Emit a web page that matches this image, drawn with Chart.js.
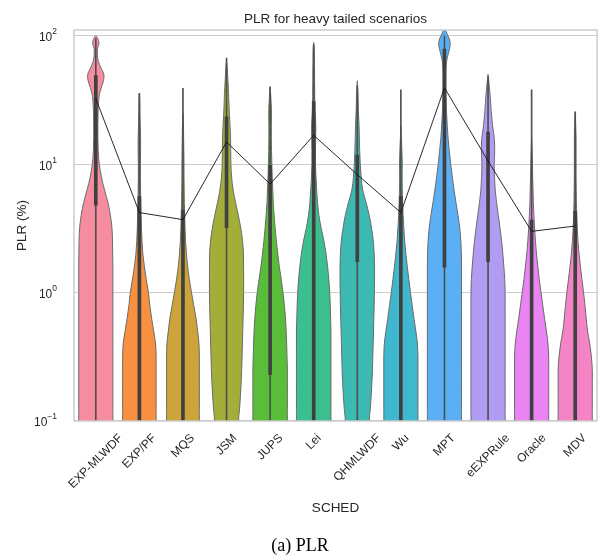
<!DOCTYPE html>
<html>
<head>
<meta charset="utf-8">
<script src="https://cdn.jsdelivr.net/npm/chart.js@4.4.0/dist/chart.umd.min.js"></script>
<style>
  html, body { margin: 0; padding: 0; background: #fff; }
  #wrap { width: 600px; height: 559px; }
</style>
</head>
<body>
<div id="wrap"><canvas id="chart"></canvas></div>
<script>
// categories
const schedulers = ["EXP-MLWDF", "EXP/PF", "MQS", "JSM", "JUPS", "Lei",
  "QHMLWDF", "Wu", "MPT", "eEXPRule", "Oracle", "MDV"];

const colors = ["#f68c9f", "#f99040", "#cda43a", "#a3ae38", "#59bd39", "#3bbf8f",
  "#3cbab1", "#3fb8cf", "#5aaff5", "#b19cf4", "#e984f2", "#f584c6"];

// mean PLR per scheduler (black line)
const means = [32.5, 4.2, 3.7, 14.9, 7.0, 16.8, 8.3, 4.2, 39.4, 10.6, 3.0, 3.3];

// inner box: quartiles and whisker ends (0.05 = below the axis)
const boxLow = [4.8, 0.05, 0.05, 3.2, 0.23, 0.05, 1.74, 0.05, 1.58, 1.74, 0.05, 0.05];
const boxHigh = [49, 5.6, 4.4, 23.4, 9.8, 30.7, 11.8, 5.6, 79, 17.8, 3.67, 4.3];
const whiskerLow = [0.05, 0.05, 0.05, 0.05, 0.05, 0.05, 0.05, 0.05, 0.05, 0.05, 0.05, 0.05];
const whiskerHigh = [95, 35.6, 39, 67, 40, 85, 41, 38, 100, 48, 38, 25.6];

// violin outline: log10(PLR) levels and relative half widths at each level
const levelExp = [-1.0, -0.9, -0.8, -0.7, -0.6, -0.5, -0.4, -0.3, -0.2, -0.1,
  0.0, 0.1, 0.2, 0.3, 0.4, 0.5, 0.6, 0.7, 0.8, 0.9,
  1.0, 1.1, 1.2, 1.3, 1.4, 1.5, 1.55, 1.6, 1.65, 1.7,
  1.75, 1.8, 1.85, 1.9, 1.95, 2.0, 2.05, 2.1];

const wExpMlwdf = [0.98, 0.98, 0.98, 0.98, 0.98, 0.98, 0.98, 0.98, 0.98, 0.98,
  0.98, 0.98, 0.98, 0.97, 0.96, 0.93, 0.84, 0.7, 0.5, 0.32,
  0.2, 0.14, 0.12, 0.12, 0.13, 0.17, 0.22, 0.32, 0.44, 0.46,
  0.3, 0.15, 0.09, 0.1, 0.18, 0, 0, 0];
const wExpPf = [0.96, 0.96, 0.96, 0.96, 0.96, 0.96, 0.93, 0.82, 0.7, 0.6,
  0.52, 0.4, 0.29, 0.2, 0.15, 0.12, 0.1, 0.08, 0.07, 0.06,
  0.06, 0.07, 0.07, 0.05, 0.03, 0.02, 0, 0, 0, 0,
  0, 0, 0, 0, 0, 0, 0, 0];
const wMqs = [0.94, 0.94, 0.94, 0.94, 0.94, 0.94, 0.92, 0.84, 0.75, 0.62,
  0.49, 0.37, 0.27, 0.2, 0.15, 0.12, 0.1, 0.08, 0.07, 0.06,
  0.06, 0.05, 0.04, 0.03, 0, 0, 0, 0, 0, 0,
  0, 0, 0, 0, 0, 0, 0, 0];
const wJsm = [0.69, 0.75, 0.8, 0.84, 0.87, 0.89, 0.91, 0.93, 0.95, 0.97,
  0.98, 0.98, 0.98, 0.97, 0.92, 0.82, 0.68, 0.52, 0.38, 0.29,
  0.25, 0.24, 0.23, 0.2, 0.16, 0.13, 0.12, 0.1, 0.08, 0.06,
  0.04, 0, 0, 0, 0, 0, 0, 0];
const wJups = [0.99, 0.99, 0.99, 0.99, 0.99, 0.97, 0.95, 0.92, 0.88, 0.82,
  0.74, 0.64, 0.53, 0.44, 0.36, 0.29, 0.23, 0.18, 0.15, 0.12,
  0.1, 0.08, 0.07, 0.07, 0.08, 0.05, 0.03, 0, 0, 0,
  0, 0, 0, 0, 0, 0, 0, 0];
const wLei = [0.99, 0.99, 0.99, 0.99, 0.99, 0.99, 0.99, 0.99, 0.97, 0.95,
  0.92, 0.87, 0.8, 0.71, 0.59, 0.43, 0.3, 0.22, 0.17, 0.13,
  0.1, 0.1, 0.11, 0.12, 0.08, 0.06, 0.06, 0.055, 0.05, 0.05,
  0.045, 0.04, 0.04, 0.03, 0, 0, 0, 0];
const wQhmlwdf = [0.69, 0.75, 0.8, 0.84, 0.87, 0.89, 0.91, 0.93, 0.95, 0.97,
  0.98, 0.99, 0.99, 0.97, 0.92, 0.82, 0.69, 0.51, 0.31, 0.22,
  0.17, 0.14, 0.12, 0.1, 0.07, 0.05, 0.04, 0.02, 0, 0,
  0, 0, 0, 0, 0, 0, 0, 0];
const wWu = [0.98, 0.98, 0.98, 0.98, 0.98, 0.98, 0.95, 0.86, 0.75, 0.65,
  0.55, 0.46, 0.37, 0.29, 0.22, 0.17, 0.13, 0.1, 0.08, 0.07,
  0.08, 0.06, 0.03, 0, 0, 0, 0, 0, 0, 0,
  0, 0, 0, 0, 0, 0, 0, 0];
const wMpt = [0.98, 0.98, 0.98, 0.98, 0.98, 0.98, 0.98, 0.98, 0.98, 0.98,
  0.98, 0.98, 0.98, 0.97, 0.94, 0.88, 0.78, 0.66, 0.55, 0.45,
  0.36, 0.28, 0.21, 0.16, 0.12, 0.1, 0.09, 0.08, 0.08, 0.08,
  0.09, 0.12, 0.2, 0.29, 0.33, 0.2, 0, 0];
const wEexprule = [0.98, 0.98, 0.98, 0.98, 0.98, 0.98, 0.98, 0.98, 0.98, 0.98,
  0.98, 0.96, 0.91, 0.85, 0.78, 0.69, 0.59, 0.49, 0.41, 0.37,
  0.35, 0.38, 0.36, 0.26, 0.19, 0.14, 0.11, 0.08, 0.04, 0,
  0, 0, 0, 0, 0, 0, 0, 0];
const wOracle = [0.98, 0.98, 0.98, 0.98, 0.98, 0.98, 0.94, 0.85, 0.74, 0.64,
  0.54, 0.44, 0.36, 0.28, 0.22, 0.17, 0.13, 0.1, 0.08, 0.06,
  0.05, 0.03, 0, 0, 0, 0, 0, 0, 0, 0,
  0, 0, 0, 0, 0, 0, 0, 0];
const wMdv = [0.98, 0.98, 0.98, 0.98, 0.98, 0.93, 0.84, 0.71, 0.63, 0.56,
  0.48, 0.39, 0.3, 0.22, 0.16, 0.12, 0.09, 0.07, 0.06, 0.05,
  0.05, 0.05, 0.05, 0.03, 0, 0, 0, 0, 0, 0,
  0, 0, 0, 0, 0, 0, 0, 0];

const violinWidths = [wExpMlwdf, wExpPf, wMqs, wJsm, wJups, wLei,
  wQhmlwdf, wWu, wMpt, wEexprule, wOracle, wMdv];

// y ticks
const yTickValues = [0.1, 1, 10, 100];
const yTickExps = ["\u22121", "0", "1", "2"];

const TEXT = "#262626";
const SANS = "'Liberation Sans', Arial, sans-serif";

//smooth closed outline through the points
function smoothPath(ctx, pts) {
  ctx.moveTo(pts[0][0], pts[0][1]);
  for (let i = 0; i < pts.length - 1; i++) {
    const p0 = pts[i - 1] || pts[i];
    const p1 = pts[i];
    const p2 = pts[i + 1];
    const p3 = pts[i + 2] || p2;
    ctx.bezierCurveTo(
      p1[0] + (p2[0] - p0[0]) / 6, p1[1] + (p2[1] - p0[1]) / 6,
      p2[0] - (p3[0] - p1[0]) / 6, p2[1] - (p3[1] - p1[1]) / 6,
      p2[0], p2[1]
    );
  }
  ctx.closePath();
}

//Violin bodies
const violinPlugin = {
  id: "violins",
  beforeDatasetsDraw(chart) {
    const { ctx, chartArea, scales } = chart;
    const x = scales.x;
    const y = scales.y;
    const maxHalf = (x.getPixelForValue(1) - x.getPixelForValue(0)) * 0.4;

    ctx.save();
    ctx.beginPath();
    ctx.rect(chartArea.left, chartArea.top, chartArea.right - chartArea.left, chartArea.bottom - chartArea.top);
    ctx.clip();

    violinWidths.forEach((widths, i) => {
      const cx = x.getPixelForValue(i);
      let tip = widths.length - 1;
      while (tip > 0 && widths[tip - 1] === 0) tip--;

      const side = [];
      side.push([maxHalf * widths[0], y.getPixelForValue(Math.pow(10, levelExp[0])) + 25]);
      for (let k = 0; k <= tip; k++) {
        side.push([maxHalf * widths[k], y.getPixelForValue(Math.pow(10, levelExp[k]))]);
      }
      const pts = side.map((p) => [cx + p[0], p[1]]);
      for (let k = side.length - 2; k >= 0; k--) pts.push([cx - side[k][0], side[k][1]]);

      ctx.beginPath();
      smoothPath(ctx, pts);
      ctx.fillStyle = colors[i];
      ctx.fill();
      ctx.strokeStyle = "#6a6a6a";
      ctx.lineWidth = 1;
      ctx.stroke();
    });
    ctx.restore();
  },
};

//Frame and texts
const textPlugin = {
  id: "texts",
  afterDraw(chart) {
    const { ctx, chartArea, scales } = chart;
    const x = scales.x;
    const y = scales.y;
    const midX = (chartArea.left + chartArea.right) / 2;

    ctx.save();
    ctx.strokeStyle = "#cccccc";
    ctx.lineWidth = 1.5;
    ctx.strokeRect(chartArea.left, chartArea.top, chartArea.right - chartArea.left, chartArea.bottom - chartArea.top);

    ctx.fillStyle = TEXT;

    // title
    ctx.font = `13.5px ${SANS}`;
    ctx.textAlign = "center";
    ctx.textBaseline = "alphabetic";
    ctx.fillText("PLR for heavy tailed scenarios", midX, 23);

    // y tick labels
    yTickValues.forEach((v, i) => {
      const py = y.getPixelForValue(v);
      ctx.font = `8.5px ${SANS}`;
      const expW = ctx.measureText(yTickExps[i]).width;
      ctx.textAlign = "left";
      ctx.textBaseline = "middle";
      ctx.fillText(yTickExps[i], 57 - expW, py - 4);
      ctx.font = `12px ${SANS}`;
      ctx.textAlign = "right";
      ctx.fillText("10", 57 - expW, py + 2);
    });

    // y axis title
    ctx.save();
    ctx.translate(22, (chartArea.top + chartArea.bottom) / 2);
    ctx.rotate(-Math.PI / 2);
    ctx.font = `13.5px ${SANS}`;
    ctx.textAlign = "center";
    ctx.textBaseline = "middle";
    ctx.fillText("PLR (%)", 0, 0);
    ctx.restore();

    // x tick labels, rotated 45 and centred on the tick
    ctx.font = `12px ${SANS}`;
    schedulers.forEach((name, i) => {
      const px = x.getPixelForValue(i);
      const w = ctx.measureText(name).width;
      const box = (w + 12) * Math.SQRT1_2;
      ctx.save();
      ctx.translate(px, chartArea.bottom + 11 + box / 2);
      ctx.rotate(-Math.PI / 4);
      ctx.textAlign = "center";
      ctx.textBaseline = "middle";
      ctx.fillText(name, 0, 0);
      ctx.restore();
    });

    // x axis title
    ctx.font = `13.5px ${SANS}`;
    ctx.textAlign = "center";
    ctx.textBaseline = "middle";
    ctx.fillText("SCHED", midX, 508);

    // caption
    ctx.fillStyle = "#000";
    ctx.font = "18px 'Liberation Serif', 'Times New Roman', serif";
    ctx.fillText("(a) PLR", 300, 546);
    ctx.restore();
  },
};

const allIdx = schedulers.map((_, i) => i);

new Chart(document.getElementById("chart"), {
  data: {
    labels: schedulers,
    datasets: [
      {
        type: "line",
        data: means,
        borderColor: "#111111",
        borderWidth: 0.9,
        pointRadius: 0,
        tension: 0,
        order: 0,
      },
      {
        type: "bar",
        data: allIdx.map((i) => [boxLow[i], boxHigh[i]]),
        backgroundColor: "#404040",
        barThickness: 3,
        grouped: false,
        order: 1,
      },
      {
        type: "bar",
        data: allIdx.map((i) => [whiskerLow[i], whiskerHigh[i]]),
        backgroundColor: "#505050",
        barThickness: 1,
        grouped: false,
        order: 2,
      },
    ],
  },
  options: {
    responsive: true,
    maintainAspectRatio: false,
    animation: false,
    layout: {
      padding: { left: 74, right: 3, top: 30, bottom: 130 },
    },
    scales: {
      x: {
        type: "category",
        offset: true,
        grid: { display: false },
        border: { display: false },
        ticks: { display: false },
      },
      y: {
        type: "logarithmic",
        min: 0.1,
        max: 111,
        afterBuildTicks: (scale) => {
          scale.ticks = yTickValues.map((v) => ({ value: v }));
        },
        grid: { color: "#cccccc", lineWidth: 1.1, drawTicks: false },
        border: { display: false },
        ticks: { display: false },
      },
    },
    plugins: {
      legend: { display: false },
      tooltip: { enabled: false },
    },
  },
  plugins: [violinPlugin, textPlugin],
});
</script>
</body>
</html>
